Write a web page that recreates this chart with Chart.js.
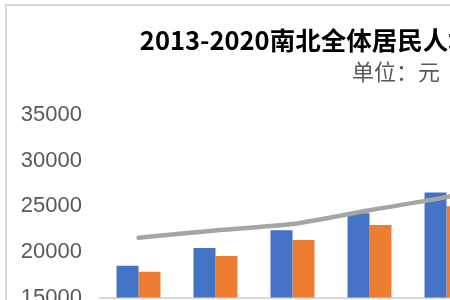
<!DOCTYPE html>
<html>
<head>
<meta charset="utf-8">
<script src="https://cdn.jsdelivr.net/npm/chart.js@4.4.0/dist/chart.umd.min.js"></script>
<style>
    html, body { margin: 0; padding: 0; background: #fff; overflow: hidden; width: 450px; height: 300px; }
    #marco { position: absolute; left: 5px; top: 4px; width: 790px; height: 440px; border-left: 2px solid #d9d9d9; border-top: 2px solid #d9d9d9; background: #fff; }
    #miGrafico { position: absolute; left: 0; top: 0; }
</style>
</head>
<body>
<div id="marco">
    <canvas id="miGrafico" width="778" height="372" style="width:778px;height:372px;"></canvas>
</div>
<script>
var anios = ['2013', '2014', '2015', '2016', '2017', '2018', '2019', '2020'];
var sur = [18480, 20430, 22390, 24240, 26520, 28700, 31100, 32600];
var norte = [17830, 19570, 21300, 22940, 25000, 27000, 29300, 30600];
var nacional = [21550, 22360, 23050, 24570, 26000, 28000, 30000, 31500];
var ejeY = [15000, 35000, 5000];

var titulo = '2013-2020南北全体居民人均可支配收入对比';
var subtitulo = '单位：元';

/*=============================================
=            Grafico                          =
=============================================*/
var mostrar = document.getElementById('miGrafico');

var grafico = new Chart(mostrar, {
    type: 'bar',
    data: {
        labels: anios,
        datasets: [
        {
            label: '南方',
            data: sur,
            backgroundColor: '#4472C4',
            order: 1
        },
        {
            label: '北方',
            data: norte,
            backgroundColor: '#ED7D31',
            order: 1
        },
        {
            type: 'line',
            label: '全国',
            data: nacional,
            borderColor: '#A5A5A5',
            backgroundColor: '#A5A5A5',
            borderWidth: 4.5,
            borderCapStyle: 'round',
            pointRadius: 0,
            tension: 0.2,
            fill: false,
            order: 0
        }
        ]
    },
    options: {
        responsive: false,
        animation: false,
        devicePixelRatio: 1,
        datasets: {
            bar: { categoryPercentage: 0.571, barPercentage: 1.0 }
        },
        scales: {
            x: {
                grid: { display: false },
                border: { display: true, color: '#d9d9d9', width: 2 },
                ticks: { color: '#595959', font: { family: 'Liberation Sans', size: 22 } }
            },
            y: {
                min: ejeY[0],
                max: ejeY[1],
                grid: { display: false, drawTicks: false },
                border: { display: false },
                ticks: {
                    stepSize: ejeY[2],
                    padding: 18,
                    color: '#595959',
                    font: { family: 'Liberation Sans', size: 22 },
                    callback: function(v) { return String(v); }
                },
                afterFit: function(scale) { scale.width = 93; }
            },
            // espacio vacio a la derecha (no afecta al titulo)
            derecha: {
                position: 'right',
                min: ejeY[0],
                max: ejeY[1],
                grid: { display: false, drawTicks: false },
                border: { display: false },
                ticks: { display: false },
                afterFit: function(scale) { scale.width = 69; }
            }
        },
        plugins: {
            title: {
                display: true,
                text: titulo,
                color: '#000',
                font: { family: 'Noto Sans CJK SC', size: 25.5, weight: 'bold' },
                padding: { top: 19, bottom: 0 }
            },
            subtitle: {
                display: true,
                text: subtitulo,
                color: '#595959',
                font: { family: 'Noto Sans CJK SC', size: 22 },
                padding: { top: 3, bottom: 30 }
            },
            legend: {
                position: 'bottom',
                labels: { color: '#595959', font: { family: 'Noto Sans CJK SC', size: 20 }, boxWidth: 14 }
            },
            tooltip: { enabled: false }
        }
    }
});
/*=====  End of Grafico  ======*/
</script>
</body>
</html>
